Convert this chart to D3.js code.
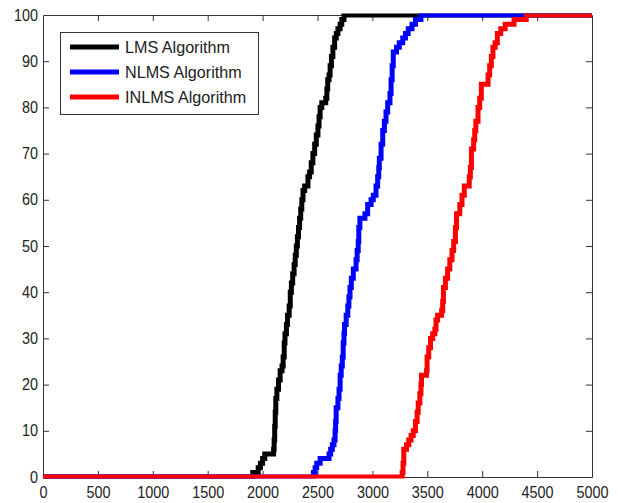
<!doctype html>
<html>
<head>
    <style>
        body { margin: 0; background: #fff; }
        svg text { font-family: "Liberation Sans", Arial, sans-serif; fill: #222; }
        .axis path, .axis line { stroke: #333; stroke-width: 1; }
    </style>
    <script src="https://d3js.org/d3.v7.min.js"></script>
</head>
<body>
<script>

    // CDF of iterations needed (percent of runs)
    var lmsIter = [0, 1910, 1960, 1980, 2000, 2020, 2100, 2105, 2110, 2115, 2120, 2130, 2145, 2160, 2177, 2187, 2197, 2204, 2217, 2227, 2242, 2252, 2262, 2274, 2287, 2297, 2307, 2317, 2327, 2337, 2347, 2357, 2368, 2383, 2413, 2428, 2443, 2458, 2474, 2489, 2504, 2514, 2524, 2539, 2575, 2585, 2593, 2605, 2615, 2627, 2640, 2656, 2671, 2686, 2706, 2721, 2741, 5000];
    var lmsPct  = [0, 1, 2, 3, 4, 5, 6, 8, 11, 14, 17, 19, 21, 23, 24, 26, 29, 31, 33, 35, 37, 40, 42, 44, 46, 48, 50, 52, 54, 56, 58, 60, 62, 63, 65, 66, 68, 70, 72, 74, 76, 78, 80, 81, 82, 84, 86, 87, 89, 91, 93, 95, 96, 97, 98, 99, 100, 100];

    var nlmsIter = [0, 2463, 2478, 2493, 2524, 2605, 2620, 2635, 2650, 2660, 2665, 2670, 2686, 2696, 2706, 2716, 2726, 2734, 2741, 2746, 2761, 2776, 2786, 2796, 2808, 2826, 2851, 2861, 2871, 2876, 2886, 2932, 2957, 2988, 3008, 3033, 3048, 3058, 3063, 3079, 3094, 3109, 3124, 3139, 3160, 3170, 3180, 3190, 3220, 3245, 3276, 3301, 3326, 3361, 3392, 3442, 5000];
    var nlmsPct  = [0, 1, 2, 3, 4, 5, 6, 7, 8, 10, 12, 15, 17, 19, 22, 24, 26, 29, 31, 33, 35, 37, 39, 41, 43, 45, 47, 49, 51, 54, 56, 57, 59, 60, 61, 63, 65, 67, 69, 72, 75, 77, 79, 81, 83, 86, 89, 92, 93, 94, 95, 96, 97, 98, 99, 100, 100];

    var inlmsIter = [0, 3271, 3279, 3286, 3311, 3331, 3352, 3372, 3392, 3407, 3417, 3432, 3442, 3447, 3493, 3498, 3513, 3529, 3549, 3569, 3579, 3594, 3630, 3640, 3647, 3665, 3685, 3705, 3725, 3740, 3756, 3766, 3796, 3816, 3837, 3882, 3892, 3902, 3922, 3932, 3942, 3962, 3977, 3992, 4053, 4068, 4083, 4098, 4118, 4138, 4169, 4209, 4290, 4401, 5000];
    var inlmsPct  = [0, 1, 3, 6, 7, 8, 9, 10, 12, 14, 16, 18, 20, 22, 23, 26, 28, 30, 31, 32, 34, 35, 36, 38, 41, 43, 45, 47, 49, 51, 54, 57, 59, 61, 63, 65, 67, 71, 73, 75, 77, 80, 82, 85, 87, 89, 91, 93, 94, 96, 97, 98, 99, 100, 100];

    var seriesNames = ["LMS Algorithm", "NLMS Algorithm", "INLMS Algorithm"];
    var seriesColors = ["#000000", "#0000ff", "#ff0000"];
    var xTicks = [0, 500, 1000, 1500, 2000, 2500, 3000, 3500, 4000, 4500, 5000];
    var yTicks = [0, 10, 20, 30, 40, 50, 60, 70, 80, 90, 100];

    var width = 618, height = 503;
    var plotLeft = 43, plotRight = 592, plotTop = 15, plotBottom = 477;

    var svg = d3.select("body")
        .append("svg")
        .attr("width", width)
        .attr("height", height);

    var x = d3.scaleLinear().domain([0, 5000]).range([plotLeft, plotRight]);
    var y = d3.scaleLinear().domain([0, 100]).range([plotBottom, plotTop]);

    // axes box, ticks pointing inside like matlab
    var xAxis = svg.append("g")
        .attr("class", "axis")
        .attr("transform", "translate(0," + plotBottom + ")")
        .call(d3.axisBottom(x).tickValues(xTicks).tickFormat(d3.format("d"))
            .tickSize(-6).tickSizeOuter(0).tickPadding(10));

    svg.append("g")
        .attr("class", "axis")
        .attr("transform", "translate(0," + plotTop + ")")
        .call(d3.axisTop(x).tickValues(xTicks).tickSize(-6).tickSizeOuter(0).tickFormat(""));

    var yAxis = svg.append("g")
        .attr("class", "axis")
        .attr("transform", "translate(" + plotLeft + ",0)")
        .call(d3.axisLeft(y).tickValues(yTicks).tickFormat(d3.format("d"))
            .tickSize(-6).tickSizeOuter(0));

    svg.append("g")
        .attr("class", "axis")
        .attr("transform", "translate(" + plotRight + ",0)")
        .call(d3.axisRight(y).tickValues(yTicks).tickSize(-6).tickSizeOuter(0).tickFormat(""));

    svg.selectAll(".axis .tick line").filter(function (d) { return d === 0 || d === 5000 || d === 100; }).remove();

    xAxis.selectAll("text")
        .attr("font-size", 16)
        .attr("font-family", null)
        .attr("transform", "scale(0.9,1)");

    yAxis.selectAll("text")
        .attr("font-size", 16)
        .attr("font-family", null)
        .attr("x", -5 / 0.9)
        .attr("transform", "scale(0.9,1)");

    svg.append("clipPath")
        .attr("id", "plotclip")
        .append("rect")
        .attr("x", plotLeft - 1)
        .attr("y", plotTop - 1.5)
        .attr("width", plotRight - plotLeft + 2)
        .attr("height", plotBottom - plotTop + 3);

    var line = d3.line()
        .x(function (d) { return x(d[0]); })
        .y(function (d) { return y(d[1]); })
        .curve(d3.curveStepAfter);

    var series = [d3.zip(lmsIter, lmsPct), d3.zip(nlmsIter, nlmsPct), d3.zip(inlmsIter, inlmsPct)];

    svg.append("g")
        .attr("clip-path", "url(#plotclip)")
        .selectAll("path")
        .data(series)
        .enter()
        .append("path")
        .attr("d", line)
        .attr("fill", "none")
        .attr("stroke", function (d, i) { return seriesColors[i]; })
        .attr("stroke-width", 5)
        .attr("stroke-linejoin", "miter");

    // legend
    var legend = svg.append("g");

    legend.append("rect")
        .attr("x", 60.5)
        .attr("y", 32.5)
        .attr("width", 198)
        .attr("height", 82)
        .attr("fill", "#fff")
        .attr("stroke", "#333");

    var item = legend.selectAll(".item")
        .data(seriesNames)
        .enter()
        .append("g")
        .attr("class", "item")
        .attr("transform", function (d, i) { return "translate(0," + (47 + i * 25) + ")"; });

    item.append("line")
        .attr("x1", 70)
        .attr("x2", 119)
        .attr("stroke", function (d, i) { return seriesColors[i]; })
        .attr("stroke-width", 5);

    item.append("text")
        .attr("transform", "translate(125,6) scale(0.95,1)")
        .attr("font-size", 17)
        .text(function (d) { return d; });

</script>
</body>
</html>
